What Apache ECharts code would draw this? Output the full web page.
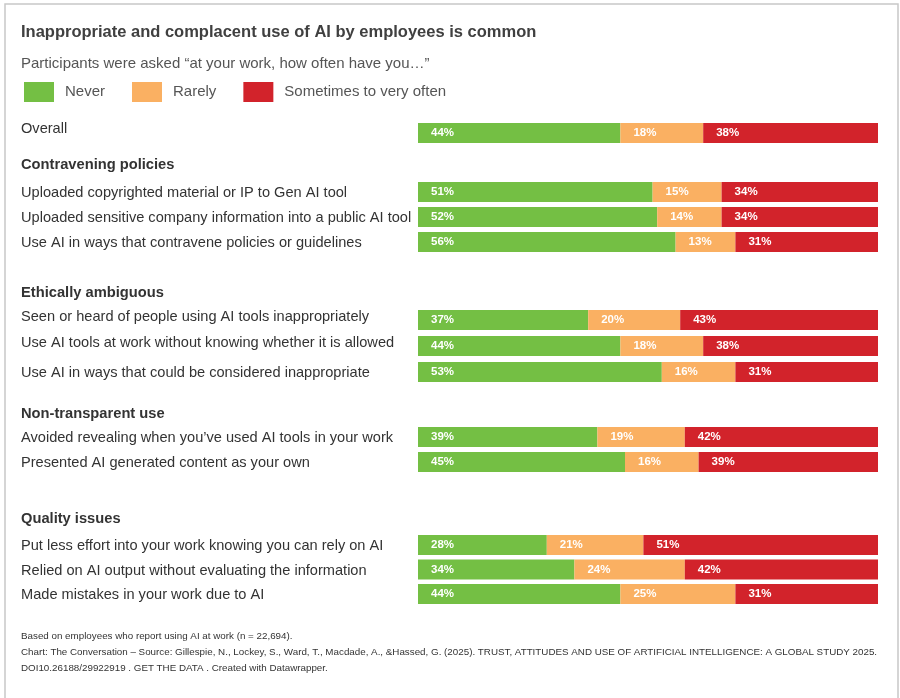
<!DOCTYPE html>
<html>
<head>
<meta charset="utf-8">
<script src="https://cdn.jsdelivr.net/npm/echarts@6/dist/echarts.min.js"></script>
<style>
html,body{margin:0;padding:0;background:#fff;}
#chart{width:900px;height:698px;}
</style>
</head>
<body>
<div id="chart"></div>
<script>
// ---- Data ----
const seriesNames = ['Never', 'Rarely', 'Sometimes to very often'];
const groupNames = ['', 'Contravening policies', 'Ethically ambiguous', 'Non-transparent use', 'Quality issues'];
const categories = [
  'Overall',
  'Uploaded copyrighted material or IP to Gen AI tool',
  'Uploaded sensitive company information into a public AI tool',
  'Use AI in ways that contravene policies or guidelines',
  'Seen or heard of people using AI tools inappropriately',
  'Use AI tools at work without knowing whether it is allowed',
  'Use AI in ways that could be considered inappropriate',
  'Avoided revealing when you\u2019ve used AI tools in your work',
  'Presented AI generated content as your own',
  'Put less effort into your work knowing you can rely on AI',
  'Relied on AI output without evaluating the information',
  'Made mistakes in your work due to AI'
];
const groupOfRow = [0, 1, 1, 1, 2, 2, 2, 3, 3, 4, 4, 4];
const never  = [44, 51, 52, 56, 37, 44, 53, 39, 45, 28, 34, 44];
const rarely = [18, 15, 14, 13, 20, 18, 16, 19, 16, 21, 24, 25];
const often  = [38, 34, 34, 31, 43, 38, 31, 42, 39, 51, 42, 31];

// ---- Layout / style ----
const colors = ['#74bf44', '#fab062', '#d2232b'];
const groupLayout = [
  { firstCenter: 133, step: 25, header: null },
  { firstCenter: 192, step: 25, header: 163 },
  { firstCenter: 320, step: 26, header: 291 },
  { firstCenter: 437, step: 25, header: 412 },
  { firstCenter: 545, step: 24.5, header: 517 }
];
// label lift (px) per row, to match the reference's text placement
const labelLift = [4, 0, 0, 0, 3, 3, 0, 0, 0, 0, 0, 0];
const barLeft = 418, barRight = 878, labelX = 21;
const FONT = 'Liberation Sans, Arial, Helvetica, sans-serif';
const LABEL_SIZE = 14.6;

const chart = echarts.init(document.getElementById('chart'));
const grids = [], xAxes = [], yAxes = [], series = [], graphics = [];
const valueArrays = [never, rarely, often];

groupLayout.forEach((g, gi) => {
  const idx = [];
  groupOfRow.forEach((gr, i) => { if (gr === gi) idx.push(i); });
  const n = idx.length;
  const top = g.firstCenter - g.step / 2;
  grids.push({ left: barLeft, width: barRight - barLeft, top: top, height: g.step * n, containLabel: false });
  xAxes.push({ type: 'value', gridIndex: gi, min: 0, max: 100, show: false });
  const rich = { n: { fontSize: LABEL_SIZE, color: '#333', fontFamily: FONT, padding: [2, 0, 0, 0] } };
  [3, 4].forEach(p => {
    rich['u' + p] = { fontSize: LABEL_SIZE, color: '#333', fontFamily: FONT, padding: [0, 0, p * 2, 0] };
  });
  yAxes.push({
    type: 'category', gridIndex: gi, inverse: true,
    data: idx.map(i => categories[i]),
    axisLine: { show: false }, axisTick: { show: false }, splitLine: { show: false },
    axisLabel: {
      align: 'left', margin: barLeft - labelX, color: '#333', fontSize: LABEL_SIZE, fontFamily: FONT,
      formatter: (v, k) => {
        const lift = labelLift[idx[k]];
        return lift ? '{u' + lift + '|' + v + '}' : '{n|' + v + '}';
      },
      rich: rich
    }
  });
  valueArrays.forEach((arr, si) => {
    series.push({
      type: 'bar', name: seriesNames[si], stack: 'g' + gi,
      xAxisIndex: gi, yAxisIndex: gi,
      barWidth: 20,
      itemStyle: { color: colors[si] },
      label: {
        show: true, position: 'insideLeft', distance: 13,
        formatter: '{c}%', color: '#fff', fontWeight: 'bold', fontSize: 11.5, fontFamily: FONT
      },
      emphasis: { disabled: true },
      data: idx.map(i => arr[i])
    });
  });
  if (g.header !== null) {
    graphics.push({
      type: 'text', left: labelX, top: g.header - 6,
      style: { text: groupNames[gi], fill: '#333', font: 'bold 14.7px ' + FONT }
    });
  }
});

graphics.push({
  type: 'rect', shape: { x: 5, y: 4, width: 893, height: 760 },
  style: { fill: 'none', stroke: '#c8c8c8', lineWidth: 1.5 }, silent: true, z: -1
});
const footer = [
  'Based on employees who report using AI at work (n = 22,694).',
  'Chart: The Conversation \u2013 Source: Gillespie, N., Lockey, S., Ward, T., Macdade, A., &Hassed, G. (2025). TRUST, ATTITUDES AND USE OF ARTIFICIAL INTELLIGENCE: A GLOBAL STUDY 2025.',
  'DOI10.26188/29922919 . GET THE DATA . Created with Datawrapper.'
];
footer.forEach((t, i) => {
  graphics.push({
    type: 'text', left: labelX, top: 631 + i * 16.2,
    style: { text: t, fill: '#333', font: '9.8px ' + FONT }
  });
});

chart.setOption({
  animation: false,
  backgroundColor: '#fff',
  title: {
    text: 'Inappropriate and complacent use of AI by employees is common',
    subtext: 'Participants were asked \u201cat your work, how often have you\u2026\u201d',
    left: labelX - 5, top: 19, itemGap: 15,
    textStyle: { color: '#404040', fontSize: 16.5, fontWeight: 'bold', fontFamily: FONT },
    subtextStyle: { color: '#555', fontSize: 15, fontFamily: FONT }
  },
  legend: {
    data: seriesNames, left: 24, top: 82, padding: 0,
    icon: 'rect', itemWidth: 30, itemHeight: 20, itemGap: 27,
    selectedMode: false,
    textStyle: { color: '#555', fontSize: 15, fontFamily: FONT, padding: [5, 0, 0, 6] }
  },
  grid: grids, xAxis: xAxes, yAxis: yAxes, series: series,
  graphic: graphics
});
</script>
</body>
</html>
